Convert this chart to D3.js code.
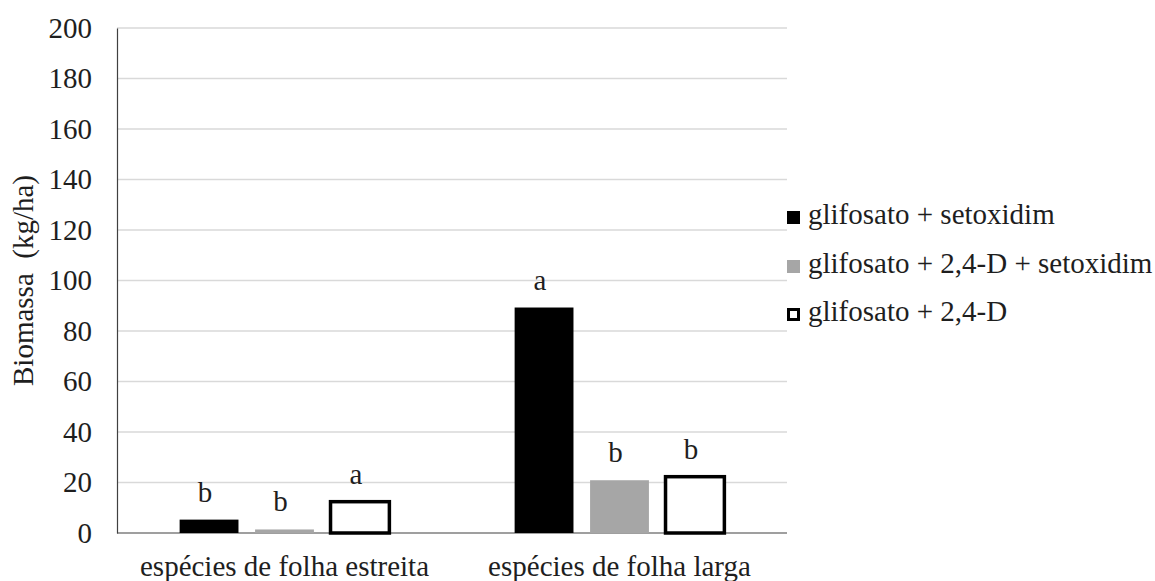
<!DOCTYPE html>
<html>
<head>
<meta charset="utf-8">
<script src="https://cdn.jsdelivr.net/npm/d3@7"></script>
</head>
<body style="margin:0">
<svg id="chart" width="1155" height="581" font-family="Liberation Serif"></svg>
<script>
// Plant groups on the x axis
const categories = ["espécies de folha estreita", "espécies de folha larga"];
// Herbicide treatments (legend order)
const series = ["glifosato + setoxidim", "glifosato + 2,4-D + setoxidim", "glifosato + 2,4-D"];
// Biomass (kg/ha) per treatment, one value per category
const valuesSetoxidim = [5.3, 89.3];
const valuesTriple = [1.4, 20.9];
const values24D = [12.4, 22.3];
// Significance letters per treatment, one per category
const lettersSetoxidim = ["b", "a"];
const lettersTriple = ["b", "b"];
const letters24D = ["a", "b"];
// Y axis ticks
const yTicks = [0, 20, 40, 60, 80, 100, 120, 140, 160, 180, 200];

const seriesValues = [valuesSetoxidim, valuesTriple, values24D];
const seriesLetters = [lettersSetoxidim, lettersTriple, letters24D];
const seriesStyle = [
  { fill: "#000000", stroke: "none", sw: 0 },
  { fill: "#a6a6a6", stroke: "none", sw: 0 },
  { fill: "#ffffff", stroke: "#000000", sw: 3.5 }
];

const svg = d3.select("#chart");
const FONT = 29;
const TEXT = "#1e1e1e";

// Serif face, size and colour for a text selection
function serif(sel) {
  return sel
    .attr("font-family", "Liberation Serif")
    .attr("font-size", FONT)
    .style("font-family", '"Liberation Serif", "Times New Roman", Tinos, serif')
    .attr("fill", TEXT);
}

const plotLeft = 117, plotRight = 787, plotTop = 28, plotBottom = 533;

const y = d3.scaleLinear().domain([0, 200]).range([plotBottom, plotTop]);
const x0 = d3.scaleBand().domain(categories).range([plotLeft, plotRight]).padding(0);
const x1 = d3.scaleBand().domain(series).range([0, x0.bandwidth()])
  .paddingInner(0.22).paddingOuter(0.83);

// Gridlines
svg.append("g")
  .selectAll("line")
  .data(yTicks.filter(t => t > 0))
  .join("line")
  .attr("x1", plotLeft).attr("x2", plotRight)
  .attr("y1", d => y(d)).attr("y2", d => y(d))
  .attr("stroke", "#d9d9d9").attr("stroke-width", 1.5);

// Y axis
const yAxis = svg.append("g")
  .attr("transform", `translate(${plotLeft},0)`)
  .call(d3.axisLeft(y).tickValues(yTicks).tickSize(0).tickPadding(25));
yAxis.attr("font-family", "Liberation Serif").attr("font-size", FONT);
yAxis.select(".domain").attr("stroke", "#404040").attr("stroke-width", 1.2);
serif(yAxis.selectAll("text"));

// X baseline
svg.append("line")
  .attr("x1", plotLeft).attr("x2", plotRight)
  .attr("y1", y(0)).attr("y2", y(0))
  .attr("stroke", "#404040").attr("stroke-width", 1.2);

// Category labels
serif(svg.append("g")
  .selectAll("text")
  .data(categories)
  .join("text")
  .attr("x", d => x0(d) + x0.bandwidth() / 2)
  .attr("y", 576)
  .attr("text-anchor", "middle")
  .text(d => d));

// Y axis title
serif(svg.append("text")
  .attr("transform", `translate(33,${(plotTop + plotBottom) / 2}) rotate(-90)`)
  .attr("text-anchor", "middle")
  .style("white-space", "pre")
  .text("Biomassa  (kg/ha)"));

// Bars and letters
series.forEach((s, si) => {
  const st = seriesStyle[si];
  const g = svg.append("g");
  const rows = categories.map((c, ci) => ({ c, v: seriesValues[si][ci], l: seriesLetters[si][ci] }));
  g.selectAll("rect")
    .data(rows)
    .join("rect")
    .attr("x", d => x0(d.c) + x1(s))
    .attr("width", x1.bandwidth())
    .attr("y", d => y(d.v))
    .attr("height", d => y(0) - y(d.v))
    .attr("fill", st.fill)
    .attr("stroke", st.stroke)
    .attr("stroke-width", st.sw);
  serif(g.selectAll("text")
    .data(rows)
    .join("text")
    .attr("x", d => x0(d.c) + x1(s) + x1.bandwidth() / 2 - 4)
    .attr("y", d => y(d.v) - 18)
    .attr("text-anchor", "middle")
    .text(d => d.l));
});

// Legend
const legend = svg.append("g").attr("transform", "translate(787,0)");
const legendBase = [224, 273, 321];
series.forEach((s, si) => {
  const st = seriesStyle[si];
  const row = legend.append("g").attr("transform", `translate(0,${legendBase[si]})`);
  const sz = 13;
  const inset = st.sw ? 1.5 : 0;
  row.append("rect")
    .attr("x", inset).attr("y", -sz + inset)
    .attr("width", sz - 2 * inset).attr("height", sz - 2 * inset)
    .attr("fill", st.fill)
    .attr("stroke", st.stroke)
    .attr("stroke-width", st.sw ? 3 : 0);
  serif(row.append("text")
    .attr("x", 21).attr("y", 0)
    .text(s));
});
</script>
</body>
</html>
